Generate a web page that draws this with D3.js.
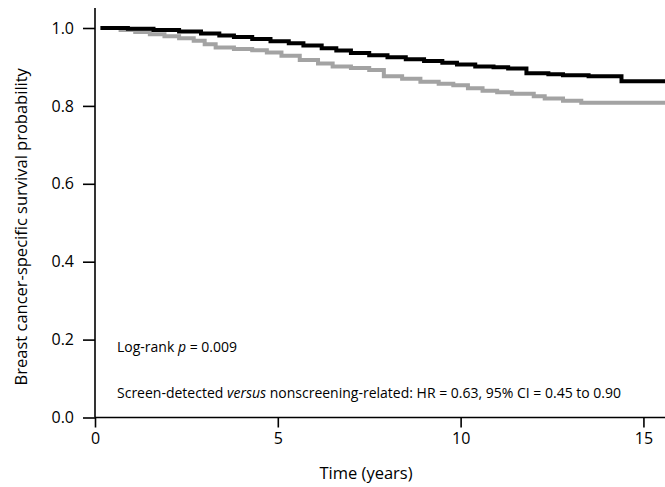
<!DOCTYPE html>
<html>
<head>
<meta charset="utf-8">
<script src="https://cdn.jsdelivr.net/npm/d3@7"></script>
<style>
  html, body { margin: 0; padding: 0; background: #fff; }
  svg { display: block; font-family: "Open Sans", "Noto Sans", sans-serif; }
</style>
</head>
<body>
<svg id="chart" width="665" height="487"></svg>
<script>
// Kaplan–Meier breast cancer-specific survival, by detection mode
const screenTimes  = [0.15, 0.9, 1.6, 2.3, 2.9, 3.4, 3.8, 4.3, 4.8, 5.3, 5.7, 6.2, 6.6, 7.0, 7.5, 8.0, 8.5, 9.0, 9.5, 9.9, 10.4, 10.9, 11.3, 11.8, 12.4, 12.8, 13.5, 14.4, 15.6];
const screenSurv   = [1.000, 0.998, 0.995, 0.991, 0.986, 0.981, 0.977, 0.972, 0.966, 0.961, 0.955, 0.948, 0.942, 0.936, 0.930, 0.925, 0.920, 0.915, 0.911, 0.906, 0.901, 0.899, 0.896, 0.884, 0.881, 0.879, 0.876, 0.863, 0.863];

const nonScreenTimes = [0.15, 0.7, 1.1, 1.5, 1.9, 2.3, 2.7, 3.0, 3.3, 3.8, 4.3, 4.7, 5.1, 5.6, 6.1, 6.5, 7.0, 7.5, 7.9, 8.4, 8.9, 9.4, 9.8, 10.2, 10.6, 11.0, 11.4, 12.0, 12.3, 12.8, 13.3, 15.6];
const nonScreenSurv  = [1.000, 0.995, 0.990, 0.984, 0.979, 0.974, 0.967, 0.958, 0.950, 0.946, 0.943, 0.937, 0.929, 0.918, 0.909, 0.901, 0.897, 0.892, 0.876, 0.870, 0.862, 0.857, 0.853, 0.845, 0.839, 0.835, 0.831, 0.825, 0.819, 0.813, 0.808, 0.808];

const xTicks = [0, 5, 10, 15];
const yTicks = [0, 0.2, 0.4, 0.6, 0.8, 1.0];

const xTitle = "Time (years)";
const yTitle = "Breast cancer-specific survival probability";

const svg = d3.select("#chart");
const margin = { left: 95, top: 8, right: 0, bottom: 69.5 };
const W = 665, H = 487;

const x = d3.scaleLinear().domain([0, 15.59]).range([margin.left, W - margin.right]);
const y = d3.scaleLinear().domain([0, 1.0]).range([417.5, 28]);

// survival curves: gray drawn first, black on top
const line = d3.line()
  .x(d => x(d[0]))
  .y(d => y(d[1]))
  .curve(d3.curveStepAfter);

const nonScreen = nonScreenTimes.map((t, i) => [t, nonScreenSurv[i]]);
const screen = screenTimes.map((t, i) => [t, screenSurv[i]]);

svg.append("path")
  .datum(nonScreen)
  .attr("d", line)
  .attr("fill", "none")
  .attr("stroke", "#a3a3a3")
  .attr("stroke-width", 4);

svg.append("path")
  .datum(screen)
  .attr("d", line)
  .attr("fill", "none")
  .attr("stroke", "#000")
  .attr("stroke-width", 4);

// axes
const xAxis = d3.axisBottom(x).tickValues(xTicks).tickFormat(d3.format("d")).tickSize(10).tickPadding(5);
const yAxis = d3.axisLeft(y).tickValues(yTicks).tickFormat(d3.format(".1f")).tickSize(12).tickPadding(9);

const gx = svg.append("g").attr("transform", `translate(0,${y(0)})`).call(xAxis);
gx.select(".domain").attr("d", `M${x(0)},0H${W}`);

const gy = svg.append("g").attr("transform", `translate(${x(0)},0)`).call(yAxis);
gy.select(".domain").attr("d", `M0,${y(0)}V${margin.top}`);

[gx, gy].forEach(g => {
  g.attr("font-size", null).attr("font-family", null);
  g.selectAll(".domain").attr("stroke", "#000").attr("stroke-width", 1.6);
  g.selectAll(".tick line").attr("stroke", "#000").attr("stroke-width", 1.6);
  g.selectAll(".tick text").attr("font-size", 16).attr("fill", "#000");
});

// axis titles
svg.append("text")
  .attr("x", 366).attr("y", 479)
  .attr("text-anchor", "middle")
  .attr("font-size", 16.5)
  .text(xTitle);

svg.append("text")
  .attr("transform", `translate(27,${(y(0) + y(1)) / 2 + 4}) rotate(-90)`)
  .attr("text-anchor", "middle")
  .attr("font-size", 16.5)
  .text(yTitle);

// annotations
const ann1 = svg.append("text").attr("x", 117).attr("y", 352).attr("font-size", 14);
ann1.append("tspan").text("Log-rank ");
ann1.append("tspan").attr("font-style", "italic").text("p");
ann1.append("tspan").text(" = 0.009");

const ann2 = svg.append("text").attr("x", 117).attr("y", 398).attr("font-size", 14);
ann2.append("tspan").text("Screen-detected ");
ann2.append("tspan").attr("font-style", "italic").text("versus");
ann2.append("tspan").text(" nonscreening-related: HR = 0.63, 95% CI = 0.45 to 0.90");
</script>
</body>
</html>
